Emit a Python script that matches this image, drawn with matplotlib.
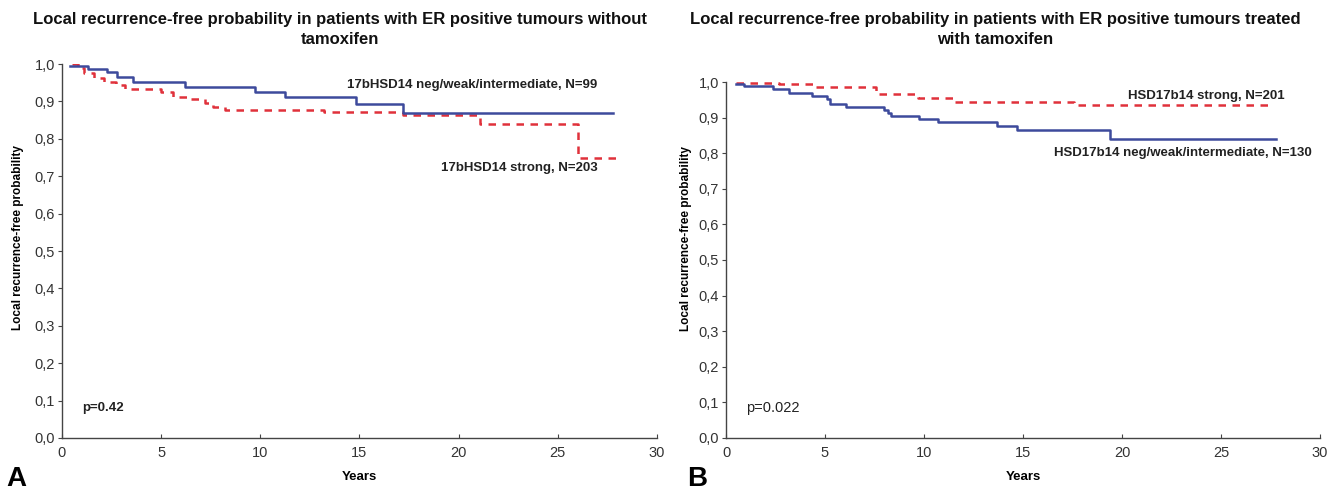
import matplotlib
matplotlib.use("Agg")
import matplotlib.pyplot as plt
from matplotlib.ticker import FuncFormatter

# panel A: ER positive tumours without tamoxifen
a_titles = "Local recurrence-free probability in patients with ER positive tumours without\ntamoxifen"
a_low_t = [0.4, 1.33, 2.25, 2.76, 3.6, 6.2, 9.73, 11.25, 14.8, 17.2]
a_low_s = [0.995, 0.987, 0.978, 0.964, 0.953, 0.939, 0.925, 0.911, 0.893, 0.870]
a_low_end = 27.8
a_high_t = [0.5, 0.8, 1.1, 1.6, 2.1, 2.7, 3.2, 5.0, 5.6, 6.3, 7.2, 7.6, 8.2, 13.2, 17.2, 21.1, 26.0]
a_high_s = [1.0, 0.99, 0.975, 0.963, 0.953, 0.944, 0.933, 0.925, 0.912, 0.907, 0.895, 0.886,
            0.877, 0.871, 0.863, 0.840, 0.748]
a_high_end = 28.0
a_low_label = "17bHSD14 neg/weak/intermediate, N=99"
a_high_label = "17bHSD14 strong, N=203"
a_p = "p=0.42"

# panel B: ER positive tumours treated with tamoxifen
b_titles = "Local recurrence-free probability in patients with ER positive tumours treated\nwith tamoxifen"
b_low_t = [0.5, 0.93, 2.36, 3.2, 4.34, 5.08, 5.25, 6.06, 8.0, 8.17, 8.33, 9.76, 10.7, 13.7, 14.7, 19.4]
b_low_s = [0.993, 0.989, 0.979, 0.970, 0.962, 0.952, 0.938, 0.931, 0.922, 0.912, 0.905, 0.895,
           0.887, 0.876, 0.865, 0.841]
b_low_end = 27.8
b_high_t = [0.5, 2.7, 4.5, 7.6, 9.7, 11.5, 17.6]
b_high_s = [0.998, 0.993, 0.985, 0.965, 0.955, 0.945, 0.935]
b_high_end = 27.5
b_low_label = "HSD17b14 neg/weak/intermediate, N=130"
b_high_label = "HSD17b14 strong, N=201"
b_p = "p=0.022"

x_ticks = [0, 5, 10, 15, 20, 25, 30]
y_ticks = [0.0, 0.1, 0.2, 0.3, 0.4, 0.5, 0.6, 0.7, 0.8, 0.9, 1.0]

BLUE = "#3d4a9c"
RED = "#e0313b"
NARROW = ["Liberation Sans Narrow", "Liberation Sans", "DejaVu Sans"]
WIDE = ["Liberation Sans", "DejaVu Sans"]


def steps(t, s, t_end):
    return list(t) + [t_end], list(s) + [s[-1]]


def style_axes(ax, ylab_x, ylab_y):
    ax.set_xlim(0, 30)
    ax.set_ylim(0, 1.0)
    ax.set_xticks(x_ticks)
    ax.set_yticks(y_ticks)
    ax.yaxis.set_major_formatter(FuncFormatter(lambda v, _: f"{v:.1f}".replace(".", ",")))
    for side in ("top", "right"):
        ax.spines[side].set_visible(False)
    for side in ("left", "bottom"):
        ax.spines[side].set_color("#444444")
        ax.spines[side].set_linewidth(1.0)
    ax.tick_params(axis="x", direction="in", length=3, pad=6, colors="#444444", labelcolor="#333333")
    ax.tick_params(axis="y", direction="out", length=3, pad=2, colors="#444444", labelcolor="#333333")
    for lab in ax.get_xticklabels() + ax.get_yticklabels():
        lab.set_family(NARROW)
        lab.set_fontsize(10.5)
    ax.set_xlabel("Years", family=NARROW, fontweight="bold", fontsize=9.5, labelpad=8)
    ax.set_ylabel("Local recurrence-free probability", family=WIDE, fontweight="bold",
                  fontsize=8.5, labelpad=3)
    ax.yaxis.set_label_coords(ylab_x, ylab_y)


fig = plt.figure(figsize=(13.27, 4.94), dpi=100)
ax_a = fig.add_axes([0.0467, 0.1134, 0.4484, 0.757])
ax_b = fig.add_axes([0.5471, 0.1134, 0.4476, 0.7206])

panels = [
    (ax_a, a_low_t, a_low_s, a_low_end, a_high_t, a_high_s, a_high_end, -0.063, 0.535),
    (ax_b, b_low_t, b_low_s, b_low_end, b_high_t, b_high_s, b_high_end, -0.057, 0.56),
]
for ax, lt, ls, le, ht, hs, he, lx, ly in panels:
    x, y = steps(lt, ls, le)
    ax.plot(x, y, drawstyle="steps-post", color=BLUE, lw=1.8, zorder=3)
    x, y = steps(ht, hs, he)
    ax.plot(x, y, drawstyle="steps-post", color=RED, lw=1.8, ls=(0, (3, 2.6)), zorder=2)
    style_axes(ax, lx, ly)

lab_kw = dict(family=NARROW, fontweight="bold", fontsize=9.5, color="#222222")
ax_a.text(27.0, 0.944, a_low_label, ha="right", va="center", **lab_kw)
ax_a.text(27.0, 0.722, a_high_label, ha="right", va="center", **lab_kw)
ax_a.text(1.0, 0.08, a_p, ha="left", va="center", **lab_kw)

ax_b.text(28.2, 0.96, b_high_label, ha="right", va="center", **lab_kw)
ax_b.text(29.6, 0.80, b_low_label, ha="right", va="center", **lab_kw)
ax_b.text(1.0, 0.085, b_p, ha="left", va="center", family=NARROW, fontsize=10.5, color="#222222")

title_kw = dict(family=WIDE, fontweight="bold", fontsize=12, ha="center", va="top",
                linespacing=1.4, color="#111111")
fig.text(340 / 1327, 1 - 12 / 494, a_titles, **title_kw)
fig.text(995 / 1327, 1 - 12 / 494, b_titles, **title_kw)

fig.text(6 / 1327, 2 / 494, "A", family=WIDE, fontweight="bold", fontsize=20, ha="left", va="bottom")
fig.text(687 / 1327, 2 / 494, "B", family=WIDE, fontweight="bold", fontsize=20, ha="left", va="bottom")

fig.savefig("out.png", dpi=100)
